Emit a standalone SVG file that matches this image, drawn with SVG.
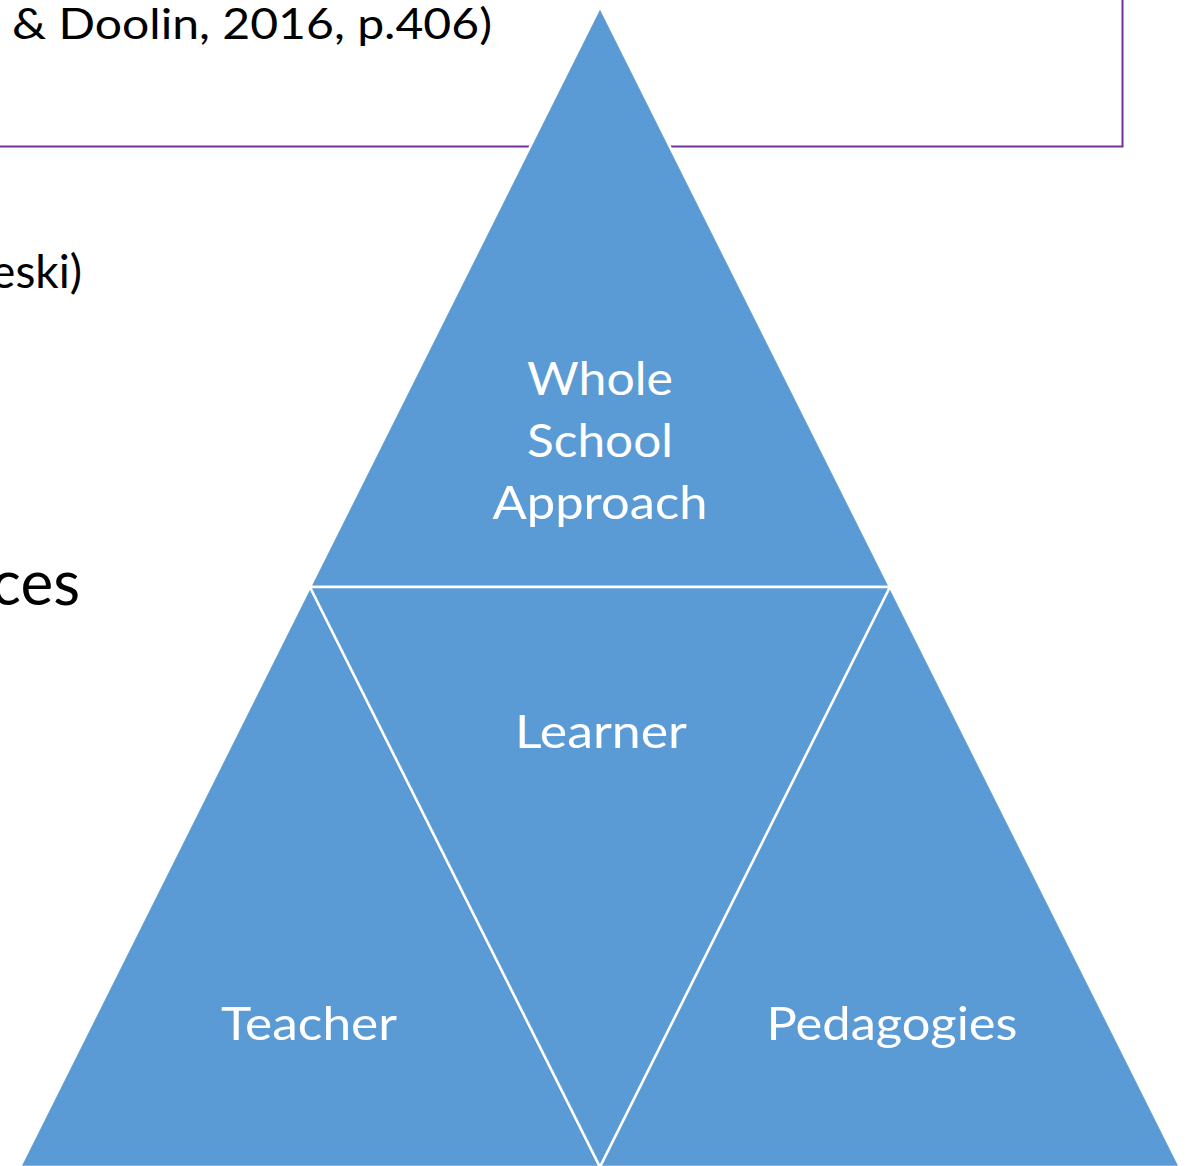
<svg xmlns="http://www.w3.org/2000/svg" width="1197" height="1166" viewBox="0 0 1197 1166">
  <style>
    .tri { fill: #5B9BD5; stroke: #FFFFFF; stroke-width: 2.5; stroke-linejoin: miter; }
    .lbl { fill: #FFFFFF; font-family: Lato, "Open Sans", "Liberation Sans", sans-serif; font-size: 46px; text-anchor: middle; }
    .bg { fill: #000000; font-family: Lato, "Open Sans", "Liberation Sans", sans-serif; }
  </style>
  <rect x="0" y="0" width="1197" height="1166" fill="#FFFFFF"/>
  <g id="background-text">
    <rect x="-10" y="-10" width="1132.5" height="156.5" fill="none" stroke="#7030A0" stroke-width="2"/>
    <text class="bg" x="12" y="39" font-size="43" textLength="480" lengthAdjust="spacingAndGlyphs">&amp; Doolin, 2016, p.406)</text>
    <text class="bg" x="82" y="288" font-size="46" text-anchor="end">eski)</text>
    <text class="bg" x="80" y="605" font-size="62" text-anchor="end">ces</text>
  </g>
  <g id="connectors"></g>
  <g id="node-whole-school">
    <polygon class="tri" points="600,7 310,587 890,587"/>
    <text class="lbl" x="600" y="395" textLength="146" lengthAdjust="spacingAndGlyphs">Whole</text>
    <text class="lbl" x="600" y="457" textLength="146" lengthAdjust="spacingAndGlyphs">School</text>
    <text class="lbl" x="600" y="519" textLength="215" lengthAdjust="spacingAndGlyphs">Approach</text>
  </g>
  <g id="node-teacher">
    <polygon class="tri" points="310,587 20,1167 600,1167"/>
    <text class="lbl" x="309" y="1040" textLength="176" lengthAdjust="spacingAndGlyphs">Teacher</text>
  </g>
  <g id="node-learner">
    <polygon class="tri" points="310,587 890,587 600,1167"/>
    <text class="lbl" x="601" y="748" textLength="172" lengthAdjust="spacingAndGlyphs">Learner</text>
  </g>
  <g id="node-pedagogies">
    <polygon class="tri" points="890,587 600,1167 1180,1167"/>
    <text class="lbl" x="892" y="1040" textLength="251" lengthAdjust="spacingAndGlyphs">Pedagogies</text>
  </g>
</svg>
